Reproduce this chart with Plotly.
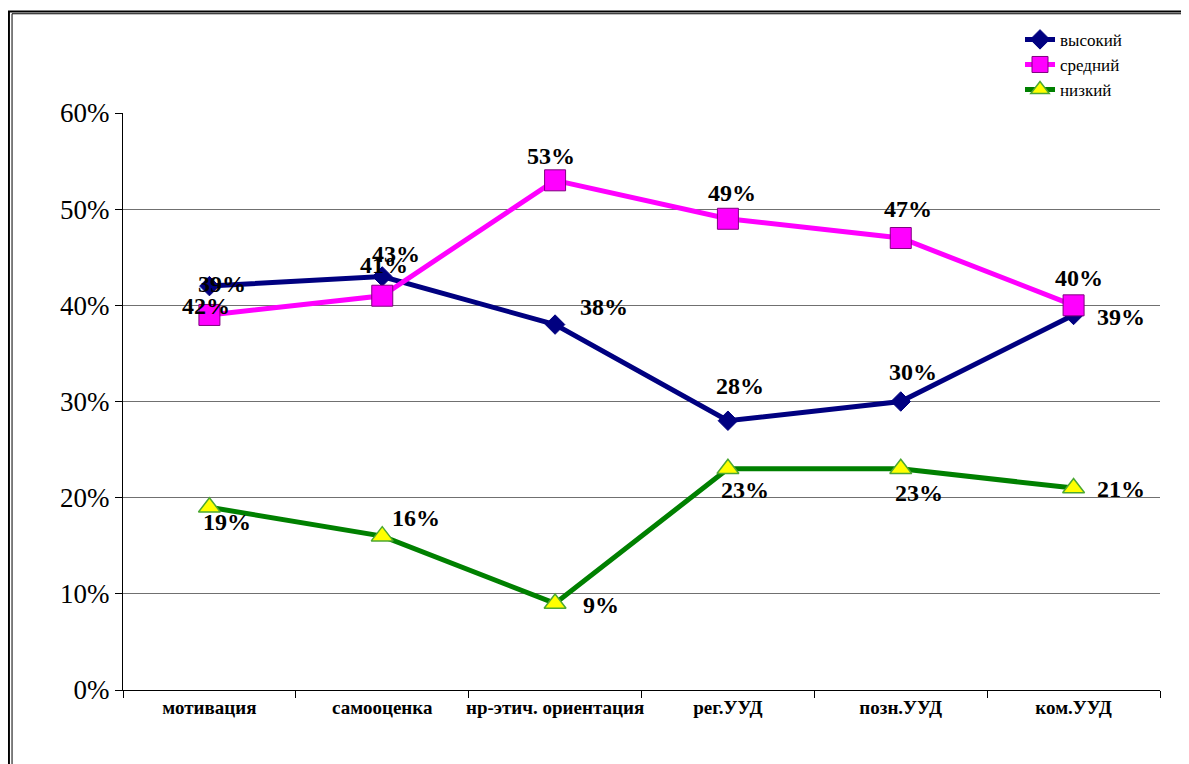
import plotly.graph_objects as go

categories = ["мотивация", "самооценка", "нр-этич. ориентация", "рег.УУД", "позн.УУД", "ком.УУД"]
high = [0.42, 0.43, 0.38, 0.28, 0.30, 0.39]
mid = [0.39, 0.41, 0.53, 0.49, 0.47, 0.40]
low = [0.19, 0.16, 0.09, 0.23, 0.23, 0.21]
names = ["высокий", "средний", "низкий"]

# label offsets in pixels (dx, dy) per point
high_off = [(-3, -20), (14, 22), (49, 18), (12, 35), (12, 30), (47, -2)]
mid_off = [(13, 31), (2, 31), (-4, 24), (4, 26), (7, 29), (5, 27)]
low_off = [(18, -15), (34, 18), (46, -2), (17, -21), (18, -24), (47, -1)]

serif = "Liberation Serif, DejaVu Serif, serif"
bold_serif = "Times New Roman, Times, Liberation Serif, serif"

fig = go.Figure()
fig.add_trace(go.Scatter(
    x=categories, y=high, name=names[0], mode="lines+markers",
    line=dict(color="#000080", width=5),
    marker=dict(symbol="diamond", size=15, color="#000080", line=dict(width=1, color="#000080")),
))
fig.add_trace(go.Scatter(
    x=categories, y=mid, name=names[1], mode="lines+markers",
    line=dict(color="#FF00FF", width=5),
    marker=dict(symbol="square", size=21, color="#FF00FF", line=dict(width=1, color="#800080")),
))
fig.add_trace(go.Scatter(
    x=categories, y=low, name=names[2], mode="lines+markers",
    line=dict(color="#008000", width=5),
    marker=dict(symbol="triangle-up", size=19, color="#FFFF00", line=dict(width=1.5, color="#4CA832")),
))

for vals, offs in [(high, high_off), (mid, mid_off), (low, low_off)]:
    for c, v, (dx, dy) in zip(categories, vals, offs):
        fig.add_annotation(
            x=c, y=v, text=f"{round(v * 100)}%", showarrow=False,
            xshift=dx, yshift=dy,
            font=dict(family=bold_serif, size=24, color="black", weight=700),
        )

# double outer frame (left/top visible)
fig.add_shape(type="rect", xref="paper", yref="paper",
              x0=-0.110, x1=1.2, y0=-0.3, y1=1.176,
              line=dict(color="black", width=2), layer="below")
fig.add_shape(type="rect", xref="paper", yref="paper",
              x0=-0.107, x1=1.2, y0=-0.3, y1=1.172,
              line=dict(color="black", width=1), layer="below")

fig.update_layout(
    width=1189, height=764,
    margin=dict(l=115, r=37, t=105, b=82),
    paper_bgcolor="white", plot_bgcolor="white",
    font=dict(family=serif, color="black"),
    xaxis=dict(
        type="category", tickson="boundaries", ticks="outside", ticklen=7,
        tickcolor="black", showline=True, linecolor="black", linewidth=1,
        showgrid=False, tickfont=dict(family=bold_serif, size=19, weight=700),
        range=[-0.5, 5.5], tickangle=0, automargin=False,
    ),
    yaxis=dict(
        range=[0, 0.6], dtick=0.1, tickformat=".0%", ticks="outside", ticklen=7,
        tickcolor="black", showline=True, linecolor="black", linewidth=1,
        showgrid=True, gridcolor="#707070", gridwidth=1, zeroline=False,
        tickfont=dict(family=serif, size=27), automargin=False,
    ),
    legend=dict(
        x=0.865, y=1.158, xanchor="left", yanchor="top",
        bgcolor="rgba(0,0,0,0)", font=dict(family=serif, size=17),
        tracegroupgap=0, itemwidth=30,
    ),
    showlegend=True,
)

fig.write_html("out.html")
